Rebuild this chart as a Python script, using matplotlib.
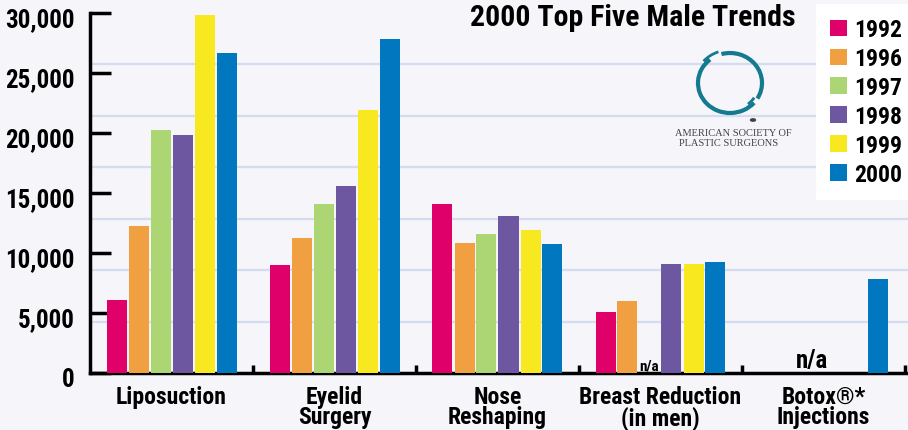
import numpy as np
import matplotlib
matplotlib.use("Agg")
import matplotlib.pyplot as plt
import matplotlib.transforms as mtransforms
from matplotlib.patches import Arc, Circle, Patch
from matplotlib.ticker import FixedLocator, FuncFormatter

# data (None = n/a)
procedures = ["Liposuction", "Eyelid\nSurgery", "Nose\nReshaping",
              "Breast Reduction\n(in men)", "Botox®*\nInjections"]
years = ["1992", "1996", "1997", "1998", "1999", "2000"]
v1992 = [6100, 8950, 14050, 5050, None]
v1996 = [12200, 11200, 10850, 6000, None]
v1997 = [20200, 14050, 11600, None, None]
v1998 = [19800, 15550, 13100, 9050, None]
v1999 = [29800, 21900, 11900, 9100, None]
v2000 = [26650, 27800, 10700, 9200, 7800]
series = [v1992, v1996, v1997, v1998, v1999, v2000]
colors = ["#e0006a", "#f0a040", "#acd574", "#6c57a0", "#f8e820", "#0077bf"]

BG = "#f5f5fa"
FONT = ["Roboto Condensed", "DejaVu Sans"]
plt.rcParams["font.family"] = FONT
plt.rcParams["font.weight"] = "bold"

fig = plt.figure(figsize=(9.08, 4.31), dpi=100, facecolor=BG)
ax = fig.add_axes([90 / 908, 57 / 431, 818 / 908, 360.5 / 431])
ax.set_facecolor(BG)

n = len(procedures)
step = 22 / 163
width = 20 / 163
x = np.arange(n)
for j, (vals, c) in enumerate(zip(series, colors)):
    off = (j - 2.5) * step
    for i, v in enumerate(vals):
        if v is None:
            continue
        ax.bar(x[i] + off, v, width=width, color=c, zorder=3)

# n/a labels
ax.text(x[3] + (2 - 2.5) * step, 0, "n/a", ha="center", va="bottom",
        fontsize=11, zorder=4)
ax.text(x[4] + (2 - 2.5) * step, 100, "n/a", ha="center", va="bottom",
        fontsize=18, zorder=4)

ax.set_xlim(-0.5, -0.5 + 818 / 163)
ax.set_ylim(0, 30000)

# y axis
ax.set_yticks(np.arange(0, 30001, 5000))
ax.yaxis.set_major_formatter(FuncFormatter(lambda v, p: f"{int(v):,}"))
ax.yaxis.set_minor_locator(FixedLocator([30000 * k / 7 for k in range(1, 7)]))
ax.tick_params(axis="y", which="major", direction="in", length=15, width=2.5,
               labelsize=18, pad=11)
ax.tick_params(axis="y", which="minor", length=0)
ax.grid(which="minor", axis="y", color="#d5dcef", linewidth=1.6, zorder=0)
shift = mtransforms.ScaledTranslation(0, -4 / 100, fig.dpi_scale_trans)
for lab in ax.get_yticklabels():
    lab.set_transform(lab.get_transform() + shift)

# x axis
ax.set_xticks(x)
ax.set_xticklabels(procedures, fontsize=17, linespacing=0.86)
ax.xaxis.set_minor_locator(FixedLocator(np.arange(n) + 0.5))
ax.tick_params(axis="x", which="major", length=0, pad=8.5)
ax.tick_params(axis="x", which="minor", direction="in", length=6, width=2.5)

for s in ["top", "right"]:
    ax.spines[s].set_visible(False)
ax.spines["left"].set_linewidth(2.5)
ax.spines["bottom"].set_linewidth(2.5)

# title
fig.text(633 / 908, 1 - 18 / 431, "2000 Top Five Male Trends", ha="center",
         va="center", fontsize=21.5)

# legend
handles = [Patch(facecolor=c, edgecolor="none") for c in colors]
leg = fig.legend(handles, years, loc="upper right",
                 bbox_to_anchor=(1.0 + 8 / 908, 1 - 5 / 431),
                 fontsize=17, frameon=True, fancybox=False, borderaxespad=0,
                 handlelength=0.7, handleheight=0.7, handletextpad=0.3,
                 labelspacing=0.25, borderpad=0.6)
leg.get_frame().set_facecolor("white")
leg.get_frame().set_edgecolor("none")
leg.get_frame().set_alpha(1)

# ASPS logo
lx, ly = 730, 84
teal = "#137a90"
def fpos(px, py):
    return px / 908, 1 - py / 431
cx, cy = fpos(lx, ly)
rw, rh = 2 * 32 / 908, 2 * 30 / 431
fig.patches.append(Arc((cx, cy), rw, rh, theta1=112, theta2=300, color=teal,
                       lw=3.0, transform=fig.transFigure))
fig.patches.append(Arc((cx, cy), rw, rh, theta1=-50, theta2=98, color=teal,
                       lw=3.0, transform=fig.transFigure))
fig.patches.append(Arc((cx, cy), rw * 1.1, rh * 1.1, theta1=100, theta2=120,
                       color=teal, lw=2.0, transform=fig.transFigure))
fig.patches.append(Arc((cx, cy), rw * 0.9, rh * 0.9, theta1=-68, theta2=-52,
                       color=teal, lw=2.0, transform=fig.transFigure))
dx, dy = fpos(753, 121)
fig.patches.append(Circle((dx, dy), 2.5 / 908, color="#444444",
                          transform=fig.transFigure))
tx, ty = fpos(733, 134)
fig.text(tx, ty, "AMERICAN SOCIETY OF", ha="center", va="center", fontsize=7.5,
         family=["Liberation Serif", "DejaVu Serif"], weight="normal", color="#444444")
tx, ty = fpos(729, 143)
fig.text(tx, ty, "PLASTIC SURGEONS", ha="center", va="center", fontsize=7.5,
         family=["Liberation Serif", "DejaVu Serif"], weight="normal", color="#444444")

fig.savefig("out.png", dpi=100, facecolor=BG)
